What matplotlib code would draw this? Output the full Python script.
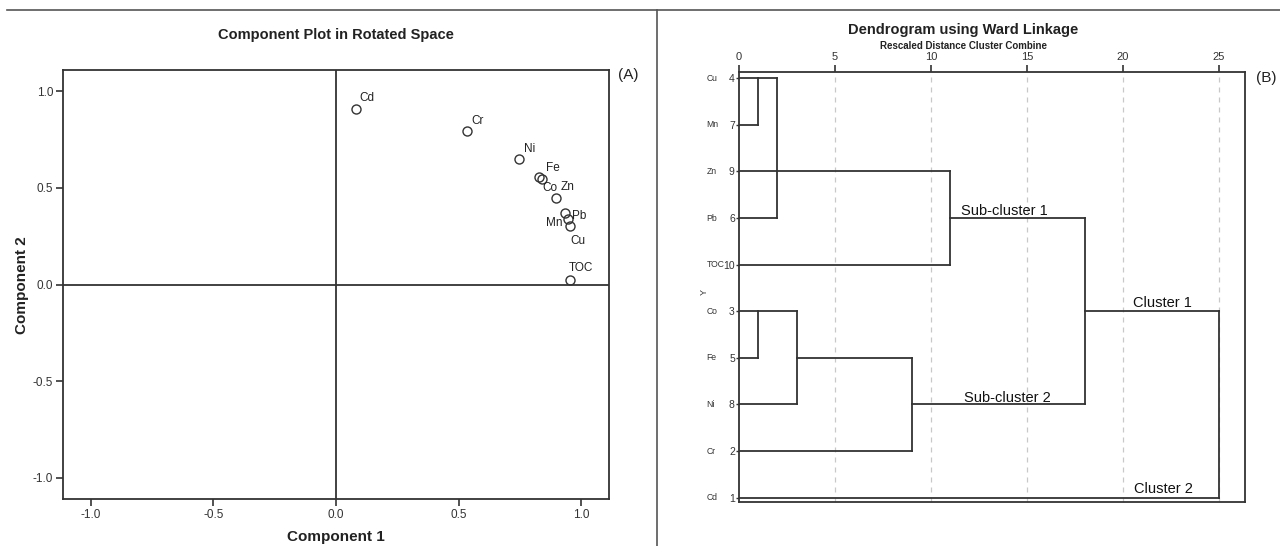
import matplotlib.pyplot as plt
from matplotlib.lines import Line2D

plt.rcParams['font.family'] = ['Liberation Sans', 'DejaVu Sans']

# component loadings (rotated space)
elements = ['Cd', 'Cr', 'Ni', 'Fe', 'Co', 'Zn', 'Pb', 'Mn', 'Cu', 'TOC']
comp1 = [0.082, 0.536, 0.748, 0.830, 0.841, 0.898, 0.933, 0.946, 0.953, 0.953]
comp2 = [0.907, 0.793, 0.649, 0.554, 0.545, 0.447, 0.371, 0.337, 0.304, 0.023]
# label offsets in pixels (dx, dy)
label_dx = [11, 10, 10, 13, 8, 11, 15, -14, 8, 11]
label_dy = [11, 10, 10, 9, -9, 11, -3, -4, -15, 12]

# dendrogram leaves, top to bottom
leaf_names = ['Cu', 'Mn', 'Zn', 'Pb', 'TOC', 'Co', 'Fe', 'Ni', 'Cr', 'Cd']
leaf_ids = ['4', '7', '9', '6', '10', '3', '5', '8', '2', '1']
# links: row a (start x), row b (start x), merge distance
link_a_row = [0, 0, 2, 5, 5, 6, 3, 5]
link_a_from = [0, 1, 0, 0, 1, 3, 11, 18]
link_b_row = [1, 3, 4, 6, 7, 8, 7, 9]
link_b_from = [0, 0, 0, 0, 0, 0, 9, 0]
link_dist = [1, 2, 11, 1, 3, 9, 18, 25]
dist_ticks = [0, 5, 10, 15, 20, 25]
cluster_labels = ['Sub-cluster 1', 'Cluster 1', 'Sub-cluster 2', 'Cluster 2']
cluster_x = [13.8, 22.05, 13.98, 22.1]
cluster_y = [2.84, 4.83, 6.85, 8.82]

W, H = 1280, 546
fig = plt.figure(figsize=(W / 100, H / 100), dpi=100)
edge = '#333333'

# frame lines of the composite figure
fig.add_artist(Line2D([7 / W, 1], [1 - 9.5 / H] * 2, color='#555555', lw=1.2))
fig.add_artist(Line2D([657 / W] * 2, [1 - 9.5 / H, 0], color='#555555', lw=1.2))

# ---- (A) component plot ----
ax1 = fig.add_axes([63 / W, 1 - 499 / H, 546 / W, 429 / H])
ax1.plot(comp1, comp2, 'o', mfc='none', mec=edge, ms=6.5, mew=1.0)
for i, name in enumerate(elements):
    ax1.annotate(name, (comp1[i], comp2[i]), xytext=(label_dx[i], label_dy[i]),
                 textcoords='offset pixels', ha='center', va='center',
                 fontsize=8.5, color='#222222')
ax1.axhline(0, color=edge, lw=1.3)
ax1.axvline(0, color=edge, lw=1.3)
ax1.set_xlim(-1.114, 1.114)
ax1.set_ylim(-1.109, 1.109)
ax1.set_xticks([-1.0, -0.5, 0.0, 0.5, 1.0])
ax1.set_yticks([-1.0, -0.5, 0.0, 0.5, 1.0])
ax1.set_xticklabels(['-1.0', '-0.5', '0.0', '0.5', '1.0'])
ax1.set_yticklabels(['-1.0', '-0.5', '0.0', '0.5', '1.0'])
ax1.tick_params(length=5, width=1.2, color=edge, labelsize=8.5, labelcolor='#333333', pad=2)
for s in ax1.spines.values():
    s.set_color(edge)
    s.set_linewidth(1.3)
fig.text(336 / W, 1 - 537 / H, 'Component 1', ha='center', va='center',
         fontsize=11, fontweight='bold', color='#222222')
fig.text(22 / W, 1 - 285 / H, 'Component 2', ha='center', va='center',
         rotation=90, fontsize=11, fontweight='bold', color='#222222')
fig.text(336 / W, 1 - 35 / H, 'Component Plot in Rotated Space', ha='center',
         va='center', fontsize=10.5, fontweight='bold', color='#222222')
fig.text(628 / W, 1 - 75 / H, '(A)', ha='center', va='center', fontsize=11,
         color='#222222')

# ---- (B) dendrogram ----
ax2 = fig.add_axes([739 / W, 1 - 501.7 / H, 506.3 / W, 429.7 / H])
for d in dist_ticks[1:]:
    ax2.axvline(d, color='#c8c8c8', lw=0.9, ls=(0, (4, 4)), zorder=0)
for i in range(len(link_dist)):
    a, b, h = link_a_row[i], link_b_row[i], link_dist[i]
    ax2.plot([link_a_from[i], h], [a, a], color=edge, lw=1.3)
    ax2.plot([link_b_from[i], h], [b, b], color=edge, lw=1.3)
    ax2.plot([h, h], [a, b], color=edge, lw=1.3)
ax2.set_xlim(0, 26.37)
ax2.set_ylim(9.086, -0.135)
ax2.xaxis.tick_top()
ax2.set_xticks(dist_ticks)
ax2.set_xticklabels([str(d) for d in dist_ticks])
ax2.tick_params(axis='x', length=5, width=1.2, color=edge, labelsize=8,
                labelcolor='#333333', pad=2)
ax2.set_yticks(range(len(leaf_ids)))
ax2.set_yticklabels(leaf_ids)
ax2.tick_params(axis='y', length=2, width=1.0, color=edge, labelsize=7.5,
                labelcolor='#333333', pad=1)
ytr = ax2.get_yaxis_transform()
for i, name in enumerate(leaf_names):
    ax2.text(-0.0640, i, name, transform=ytr, ha='left', va='center',
             fontsize=6.2, color='#333333')
for lab, x, y in zip(cluster_labels, cluster_x, cluster_y):
    ax2.text(x, y, lab, ha='center', va='center', fontsize=10.5, color='#111111')
for s in ax2.spines.values():
    s.set_color(edge)
    s.set_linewidth(1.3)
fig.text(704 / W, 1 - 292 / H, 'Y', ha='center', va='center', rotation=90,
         fontsize=6.5, color='#333333')
fig.text(963 / W, 1 - 30 / H, 'Dendrogram using Ward Linkage', ha='center',
         va='center', fontsize=10.5, fontweight='bold', color='#222222')
fig.text(963 / W, 1 - 46 / H, 'Rescaled Distance Cluster Combine', ha='center',
         va='center', fontsize=7, fontweight='bold', color='#222222')
fig.text(1266 / W, 1 - 78 / H, '(B)', ha='center', va='center', fontsize=11,
         color='#222222')

fig.savefig('out.png', dpi=100)
